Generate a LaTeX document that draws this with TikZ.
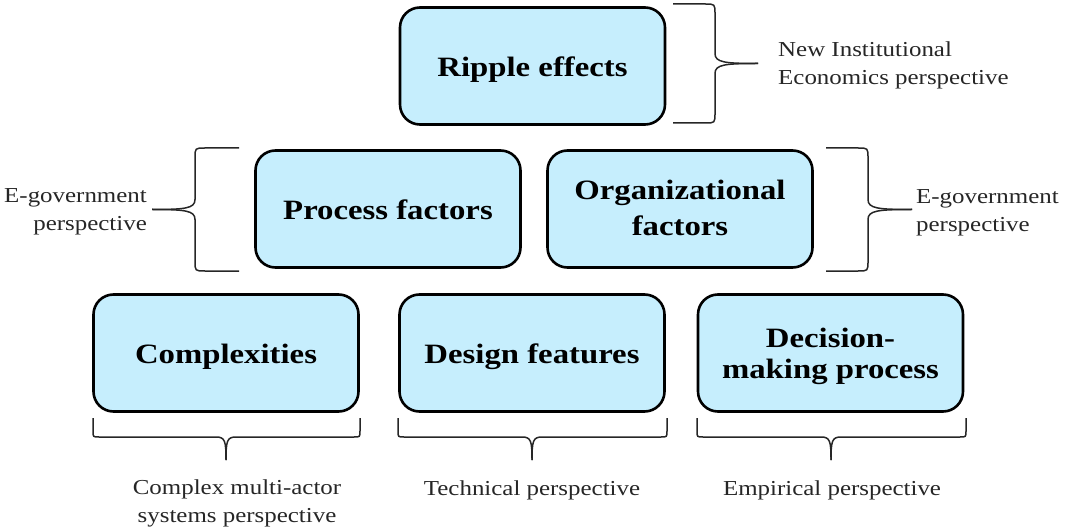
\documentclass[tikz,border=0pt]{standalone}
\usepackage{fontspec}
\setmainfont{Liberation Serif}[FakeStretch=1.17]
\definecolor{boxfill}{RGB}{198,238,253}
% side brace: #1 ends x, #2 spine x, #3 tip x, #4 top y, #5 bottom y, #6 direction (+1 tip right, -1 tip left)
\newcommand{\SideBrace}[6]{%
 \draw[brc] (#1,#4) -- ({#2-(#6)*10},#4) .. controls (#2,#4) .. (#2,{#4+10}) -- (#2,{(#4+#5)/2-10}) .. controls (#2,{(#4+#5)/2-1}) and ({#2+(#6)*10},{(#4+#5)/2}) .. (#3,{(#4+#5)/2});
 \draw[brc] (#1,#5) -- ({#2-(#6)*10},#5) .. controls (#2,#5) .. (#2,{#5-10}) -- (#2,{(#4+#5)/2+10}) .. controls (#2,{(#4+#5)/2+1}) and ({#2+(#6)*10},{(#4+#5)/2}) .. (#3,{(#4+#5)/2});}
% bottom brace: #1 left x, #2 right x, #3 tip x, #4 ends y, #5 bar y, #6 tip y
\newcommand{\BotBrace}[6]{%
 \draw[brc] (#1,#4) -- (#1,{#5-6}) .. controls (#1,#5) .. ({#1+6},#5) -- ({#3-10},#5) .. controls ({#3-1},#5) and (#3,{#5+4}) .. (#3,#6);
 \draw[brc] (#2,#4) -- (#2,{#5-6}) .. controls (#2,#5) .. ({#2-6},#5) -- ({#3+10},#5) .. controls ({#3+1},#5) and (#3,{#5+4}) .. (#3,#6);}
\begin{document}
\begin{tikzpicture}[x=1pt,y=-1pt,
  box/.style={draw=black, line width=2.6pt, fill=boxfill, rounded corners=20pt,
    minimum width=265pt, minimum height=117pt, inner sep=0pt, align=center,
    font=\fontsize{28}{30}\selectfont\bfseries},
  one/.style={text height=20.5pt, text depth=0pt},
  lbl/.style={font=\fontsize{21.3}{28}\selectfont, inner sep=0pt, text=black!85},
  brc/.style={draw=black!85, line width=1.5pt}]
\useasboundingbox (0,0) rectangle (1070,529);
\node[box, one] (ripple) at (532.5,66) {Ripple effects};
\node[box, one] (process) at (388,209) {Process factors};
\node[box] (org) at (680,209) {\raisebox{0pt}[\dimexpr\height+2pt\relax]{\def\arraystretch{1.2}\begin{tabular}{@{}c@{}}Organizational\\factors\end{tabular}}};
\node[box, one] (complex) at (226,353) {Complexities};
\node[box, one] (design) at (532,353) {Design features};
\node[box] (decision) at (830.5,353) {\raisebox{0pt}[\dimexpr\height+8pt\relax]{\def\arraystretch{1.0333}\begin{tabular}{@{}c@{}}Decision-\\making process\end{tabular}}};
\node[lbl, anchor=west, align=left] (nie) at (778,65) {New Institutional\\Economics perspective};
\node[lbl, anchor=east, align=right] (egl) at (147,212) {E-government\\perspective};
\node[lbl, anchor=west, align=left] (egr) at (916,213) {E-government\\perspective};
\node[lbl, align=center] (cmas) at (237,503.5) {Complex multi-actor\\systems perspective};
\node[lbl] (tech) at (532,490) {Technical perspective};
\node[lbl] (emp) at (832,490) {Empirical perspective};
\SideBrace{673}{715}{758}{4}{123}{1}
\SideBrace{239}{195}{152}{148}{271}{-1}
\SideBrace{826}{868}{912}{148}{271}{1}
\BotBrace{93}{360}{226}{418}{437}{460}
\BotBrace{398}{667}{532}{418}{437}{460}
\BotBrace{697}{966}{831}{418}{437}{460}
\end{tikzpicture}
\end{document}
